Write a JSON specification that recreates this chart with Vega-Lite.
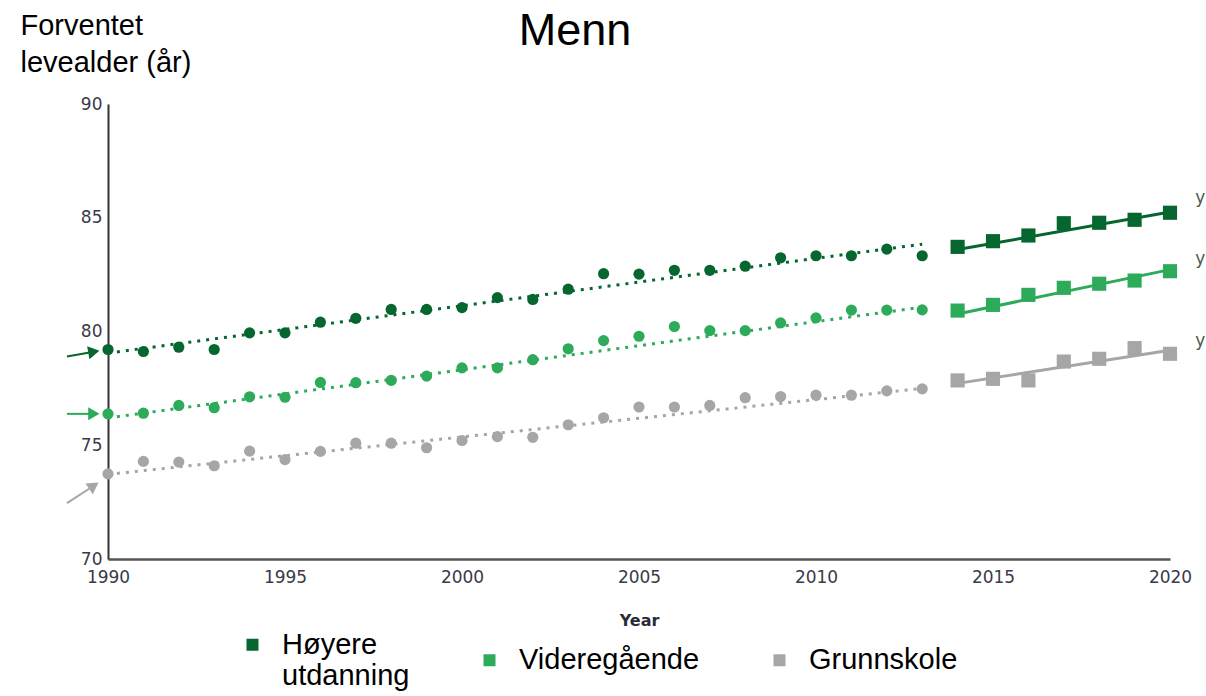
{
  "$schema": "https://vega.github.io/schema/vega-lite/v6.json",
  "width": 1062,
  "height": 455,
  "autosize": {"type": "none"},
  "padding": {"left": 108, "top": 104, "right": 36, "bottom": 137},
  "background": "white",
  "config": {"view": {"stroke": null}, "axis": {"grid": false}},
  "title": {"text": "Menn", "anchor": "middle", "frame": "group", "dx": -64, "dy": 47, "font": "Liberation Sans", "fontSize": 45, "fontWeight": "normal", "color": "black"},
  "datasets": {
    "pts": [
      {"series": "Høyere utdanning", "kind": "obs", "year": 1990, "value": 79.21},
      {"series": "Høyere utdanning", "kind": "obs", "year": 1991, "value": 79.12},
      {"series": "Høyere utdanning", "kind": "obs", "year": 1992, "value": 79.31},
      {"series": "Høyere utdanning", "kind": "obs", "year": 1993, "value": 79.21},
      {"series": "Høyere utdanning", "kind": "obs", "year": 1994, "value": 79.94},
      {"series": "Høyere utdanning", "kind": "obs", "year": 1995, "value": 79.94},
      {"series": "Høyere utdanning", "kind": "obs", "year": 1996, "value": 80.41},
      {"series": "Høyere utdanning", "kind": "obs", "year": 1997, "value": 80.58},
      {"series": "Høyere utdanning", "kind": "obs", "year": 1998, "value": 80.97},
      {"series": "Høyere utdanning", "kind": "obs", "year": 1999, "value": 80.97},
      {"series": "Høyere utdanning", "kind": "obs", "year": 2000, "value": 81.05},
      {"series": "Høyere utdanning", "kind": "obs", "year": 2001, "value": 81.49},
      {"series": "Høyere utdanning", "kind": "obs", "year": 2002, "value": 81.41},
      {"series": "Høyere utdanning", "kind": "obs", "year": 2003, "value": 81.86},
      {"series": "Høyere utdanning", "kind": "obs", "year": 2004, "value": 82.54},
      {"series": "Høyere utdanning", "kind": "obs", "year": 2005, "value": 82.52},
      {"series": "Høyere utdanning", "kind": "obs", "year": 2006, "value": 82.69},
      {"series": "Høyere utdanning", "kind": "obs", "year": 2007, "value": 82.69},
      {"series": "Høyere utdanning", "kind": "obs", "year": 2008, "value": 82.87},
      {"series": "Høyere utdanning", "kind": "obs", "year": 2009, "value": 83.24},
      {"series": "Høyere utdanning", "kind": "obs", "year": 2010, "value": 83.33},
      {"series": "Høyere utdanning", "kind": "obs", "year": 2011, "value": 83.33},
      {"series": "Høyere utdanning", "kind": "obs", "year": 2012, "value": 83.62},
      {"series": "Høyere utdanning", "kind": "obs", "year": 2013, "value": 83.33},
      {"series": "Høyere utdanning", "kind": "proj", "year": 2014, "value": 83.72},
      {"series": "Høyere utdanning", "kind": "proj", "year": 2015, "value": 83.97},
      {"series": "Høyere utdanning", "kind": "proj", "year": 2016, "value": 84.22},
      {"series": "Høyere utdanning", "kind": "proj", "year": 2017, "value": 84.76},
      {"series": "Høyere utdanning", "kind": "proj", "year": 2018, "value": 84.78},
      {"series": "Høyere utdanning", "kind": "proj", "year": 2019, "value": 84.91},
      {"series": "Høyere utdanning", "kind": "proj", "year": 2020, "value": 85.22},
      {"series": "Videregående", "kind": "obs", "year": 1990, "value": 76.38},
      {"series": "Videregående", "kind": "obs", "year": 1991, "value": 76.41},
      {"series": "Videregående", "kind": "obs", "year": 1992, "value": 76.75},
      {"series": "Videregående", "kind": "obs", "year": 1993, "value": 76.65},
      {"series": "Videregående", "kind": "obs", "year": 1994, "value": 77.13},
      {"series": "Videregående", "kind": "obs", "year": 1995, "value": 77.11},
      {"series": "Videregående", "kind": "obs", "year": 1996, "value": 77.76},
      {"series": "Videregående", "kind": "obs", "year": 1997, "value": 77.75},
      {"series": "Videregående", "kind": "obs", "year": 1998, "value": 77.85},
      {"series": "Videregående", "kind": "obs", "year": 1999, "value": 78.04},
      {"series": "Videregående", "kind": "obs", "year": 2000, "value": 78.40},
      {"series": "Videregående", "kind": "obs", "year": 2001, "value": 78.40},
      {"series": "Videregående", "kind": "obs", "year": 2002, "value": 78.76},
      {"series": "Videregående", "kind": "obs", "year": 2003, "value": 79.24},
      {"series": "Videregående", "kind": "obs", "year": 2004, "value": 79.60},
      {"series": "Videregående", "kind": "obs", "year": 2005, "value": 79.79},
      {"series": "Videregående", "kind": "obs", "year": 2006, "value": 80.22},
      {"series": "Videregående", "kind": "obs", "year": 2007, "value": 80.04},
      {"series": "Videregående", "kind": "obs", "year": 2008, "value": 80.04},
      {"series": "Videregående", "kind": "obs", "year": 2009, "value": 80.38},
      {"series": "Videregående", "kind": "obs", "year": 2010, "value": 80.60},
      {"series": "Videregående", "kind": "obs", "year": 2011, "value": 80.94},
      {"series": "Videregående", "kind": "obs", "year": 2012, "value": 80.94},
      {"series": "Videregående", "kind": "obs", "year": 2013, "value": 80.95},
      {"series": "Videregående", "kind": "proj", "year": 2014, "value": 80.92},
      {"series": "Videregående", "kind": "proj", "year": 2015, "value": 81.17},
      {"series": "Videregående", "kind": "proj", "year": 2016, "value": 81.61},
      {"series": "Videregående", "kind": "proj", "year": 2017, "value": 81.92},
      {"series": "Videregående", "kind": "proj", "year": 2018, "value": 82.10},
      {"series": "Videregående", "kind": "proj", "year": 2019, "value": 82.24},
      {"series": "Videregående", "kind": "proj", "year": 2020, "value": 82.65},
      {"series": "Grunnskole", "kind": "obs", "year": 1990, "value": 73.74},
      {"series": "Grunnskole", "kind": "obs", "year": 1991, "value": 74.29},
      {"series": "Grunnskole", "kind": "obs", "year": 1992, "value": 74.26},
      {"series": "Grunnskole", "kind": "obs", "year": 1993, "value": 74.10},
      {"series": "Grunnskole", "kind": "obs", "year": 1994, "value": 74.74},
      {"series": "Grunnskole", "kind": "obs", "year": 1995, "value": 74.37},
      {"series": "Grunnskole", "kind": "obs", "year": 1996, "value": 74.73},
      {"series": "Grunnskole", "kind": "obs", "year": 1997, "value": 75.09},
      {"series": "Grunnskole", "kind": "obs", "year": 1998, "value": 75.09},
      {"series": "Grunnskole", "kind": "obs", "year": 1999, "value": 74.89},
      {"series": "Grunnskole", "kind": "obs", "year": 2000, "value": 75.21},
      {"series": "Grunnskole", "kind": "obs", "year": 2001, "value": 75.38},
      {"series": "Grunnskole", "kind": "obs", "year": 2002, "value": 75.35},
      {"series": "Grunnskole", "kind": "obs", "year": 2003, "value": 75.90},
      {"series": "Grunnskole", "kind": "obs", "year": 2004, "value": 76.21},
      {"series": "Grunnskole", "kind": "obs", "year": 2005, "value": 76.68},
      {"series": "Grunnskole", "kind": "obs", "year": 2006, "value": 76.68},
      {"series": "Grunnskole", "kind": "obs", "year": 2007, "value": 76.75},
      {"series": "Grunnskole", "kind": "obs", "year": 2008, "value": 77.09},
      {"series": "Grunnskole", "kind": "obs", "year": 2009, "value": 77.14},
      {"series": "Grunnskole", "kind": "obs", "year": 2010, "value": 77.20},
      {"series": "Grunnskole", "kind": "obs", "year": 2011, "value": 77.20},
      {"series": "Grunnskole", "kind": "obs", "year": 2012, "value": 77.39},
      {"series": "Grunnskole", "kind": "obs", "year": 2013, "value": 77.48},
      {"series": "Grunnskole", "kind": "proj", "year": 2014, "value": 77.85},
      {"series": "Grunnskole", "kind": "proj", "year": 2015, "value": 77.92},
      {"series": "Grunnskole", "kind": "proj", "year": 2016, "value": 77.85},
      {"series": "Grunnskole", "kind": "proj", "year": 2017, "value": 78.68},
      {"series": "Grunnskole", "kind": "proj", "year": 2018, "value": 78.80},
      {"series": "Grunnskole", "kind": "proj", "year": 2019, "value": 79.27},
      {"series": "Grunnskole", "kind": "proj", "year": 2020, "value": 79.02}
    ],
    "trends": [
      {"series": "Høyere utdanning", "seg": "hist", "year": 1990, "value": 79.05},
      {"series": "Høyere utdanning", "seg": "hist", "year": 2013, "value": 83.84},
      {"series": "Videregående", "seg": "hist", "year": 1990, "value": 76.2},
      {"series": "Videregående", "seg": "hist", "year": 2013, "value": 81.07},
      {"series": "Grunnskole", "seg": "hist", "year": 1990, "value": 73.72},
      {"series": "Grunnskole", "seg": "hist", "year": 2013, "value": 77.5},
      {"series": "Høyere utdanning", "seg": "proj", "year": 2014, "value": 83.6},
      {"series": "Høyere utdanning", "seg": "proj", "year": 2020, "value": 85.25},
      {"series": "Videregående", "seg": "proj", "year": 2014, "value": 80.77},
      {"series": "Videregående", "seg": "proj", "year": 2020, "value": 82.72},
      {"series": "Grunnskole", "seg": "proj", "year": 2014, "value": 77.72},
      {"series": "Grunnskole", "seg": "proj", "year": 2020, "value": 79.18}
    ],
    "arrows": [
      {"series": "Høyere utdanning", "year": 1988.84, "value": 78.9, "year2": 1989.6, "value2": 79.11},
      {"series": "Videregående", "year": 1988.84, "value": 76.38, "year2": 1989.6, "value2": 76.38},
      {"series": "Grunnskole", "year": 1988.84, "value": 72.46, "year2": 1989.6, "value2": 73.22}
    ],
    "eqs": [
      {"series": "Høyere utdanning", "year": 2020.71, "value": 85.85, "label": "y"},
      {"series": "Videregående", "year": 2020.71, "value": 83.2, "label": "y"},
      {"series": "Grunnskole", "year": 2020.71, "value": 79.6, "label": "y"}
    ]
  },
  "encoding": {
    "x": {
      "field": "year", "type": "quantitative",
      "scale": {"domain": [1990, 2020], "nice": false, "zero": false},
      "axis": {"values": [1990, 1995, 2000, 2005, 2010, 2015, 2020], "format": "d", "title": "Year", "ticks": false, "labelFlush": false, "labelPadding": 10, "labelFont": "DejaVu Sans", "labelFontSize": 17, "labelColor": "#3a3a48", "titleFont": "DejaVu Sans", "titleFontSize": 16, "titleFontWeight": "bold", "titleColor": "#2a2a38", "titlePadding": 27, "domainColor": "#555555", "domainWidth": 2.5}
    },
    "y": {
      "field": "value", "type": "quantitative",
      "scale": {"domain": [70, 90], "nice": false, "zero": false},
      "axis": {"values": [70, 75, 80, 85, 90], "ticks": false, "labelFlush": false, "labelPadding": 6, "labelFont": "DejaVu Sans", "labelFontSize": 17, "labelColor": "#3a3a48", "domainColor": "#333333", "domainWidth": 2, "title": ["Forventet", "levealder (år)"], "titleAngle": 0, "titleAlign": "left", "titleBaseline": "alphabetic", "titleX": -88, "titleY": -70, "titleFont": "Liberation Sans", "titleFontSize": 29, "titleFontWeight": "normal", "titleColor": "black", "titleLineHeight": 37}
    }
  },
  "layer": [
    {
      "data": {"name": "trends"},
      "transform": [{"filter": "datum.seg == 'hist'"}],
      "mark": {"type": "line", "strokeWidth": 3, "strokeDash": [3, 6], "clip": false},
      "encoding": {
        "stroke": {"field": "series", "type": "nominal", "scale": {"domain": ["Grunnskole", "Videregående", "Høyere utdanning"], "range": ["#a6a6a6", "#2dab5b", "#05672f"]}, "legend": null}
      }
    },
    {
      "data": {"name": "trends"},
      "transform": [{"filter": "datum.seg == 'proj'"}],
      "mark": {"type": "line", "strokeWidth": 3, "clip": false},
      "encoding": {
        "stroke": {"field": "series", "type": "nominal", "scale": {"domain": ["Grunnskole", "Videregående", "Høyere utdanning"], "range": ["#a6a6a6", "#2dab5b", "#05672f"]}, "legend": null}
      }
    },
    {
      "data": {"name": "arrows"},
      "mark": {"type": "rule", "strokeWidth": 2, "clip": false},
      "encoding": {
        "x2": {"field": "year2"},
        "y2": {"field": "value2"},
        "stroke": {"field": "series", "type": "nominal", "scale": {"domain": ["Grunnskole", "Videregående", "Høyere utdanning"], "range": ["#a6a6a6", "#2dab5b", "#05672f"]}, "legend": null}
      }
    },
    {
      "data": {"name": "arrows"},
      "transform": [{"filter": "datum.series == 'Høyere utdanning'"}],
      "mark": {"type": "point", "shape": "triangle-right", "filled": true, "opacity": 1, "size": 170, "angle": 350, "color": "#05672f", "clip": false},
      "encoding": {
        "x": {"field": "year2", "type": "quantitative"},
        "y": {"field": "value2", "type": "quantitative"}
      }
    },
    {
      "data": {"name": "arrows"},
      "transform": [{"filter": "datum.series == 'Videregående'"}],
      "mark": {"type": "point", "shape": "triangle-right", "filled": true, "opacity": 1, "size": 170, "angle": 0, "color": "#2dab5b", "clip": false},
      "encoding": {
        "x": {"field": "year2", "type": "quantitative"},
        "y": {"field": "value2", "type": "quantitative"}
      }
    },
    {
      "data": {"name": "arrows"},
      "transform": [{"filter": "datum.series == 'Grunnskole'"}],
      "mark": {"type": "point", "shape": "triangle-right", "filled": true, "opacity": 1, "size": 170, "angle": 326, "color": "#a6a6a6", "clip": false},
      "encoding": {
        "x": {"field": "year2", "type": "quantitative"},
        "y": {"field": "value2", "type": "quantitative"}
      }
    },
    {
      "data": {"name": "pts"},
      "transform": [{"filter": "datum.kind == 'obs'"}],
      "mark": {"type": "point", "shape": "circle", "filled": true, "opacity": 1, "size": 125},
      "encoding": {
        "fill": {"field": "series", "type": "nominal", "scale": {"domain": ["Høyere utdanning", "Videregående", "Grunnskole"], "range": ["#05672f", "#2dab5b", "#a6a6a6"]},
          "legend": {"orient": "none", "legendX": 130, "legendY": 526, "direction": "horizontal", "title": null, "symbolType": "square", "symbolSize": 144, "symbolStrokeWidth": 0, "labelFont": "Liberation Sans", "labelFontSize": 29, "labelColor": "black", "labelOffset": 15, "labelLimit": 400, "columnPadding": 65,
            "labelExpr": "datum.label == 'Høyere utdanning' ? ['Høyere', 'utdanning'] : datum.label",
            "encode": {"labels": {"update": {"lineHeight": {"value": 34}}}}}
        }
      }
    },
    {
      "data": {"name": "pts"},
      "transform": [{"filter": "datum.kind == 'proj'"}],
      "mark": {"type": "point", "shape": "square", "filled": true, "opacity": 1, "size": 200},
      "encoding": {
        "fill": {"field": "series", "type": "nominal", "scale": {"domain": ["Høyere utdanning", "Videregående", "Grunnskole"], "range": ["#05672f", "#2dab5b", "#a6a6a6"]},
          "legend": {"orient": "none", "legendX": 130, "legendY": 526, "direction": "horizontal", "title": null, "symbolType": "square", "symbolSize": 144, "symbolStrokeWidth": 0, "labelFont": "Liberation Sans", "labelFontSize": 29, "labelColor": "black", "labelOffset": 15, "labelLimit": 400, "columnPadding": 65,
            "labelExpr": "datum.label == 'Høyere utdanning' ? ['Høyere', 'utdanning'] : datum.label",
            "encode": {"labels": {"update": {"lineHeight": {"value": 34}}}}}
        }
      }
    },
    {
      "data": {"name": "eqs"},
      "mark": {"type": "text", "align": "left", "baseline": "middle", "font": "DejaVu Sans", "fontSize": 17, "color": "#4a5a4a", "clip": false},
      "encoding": {"text": {"field": "label"}}
    }
  ]
}
